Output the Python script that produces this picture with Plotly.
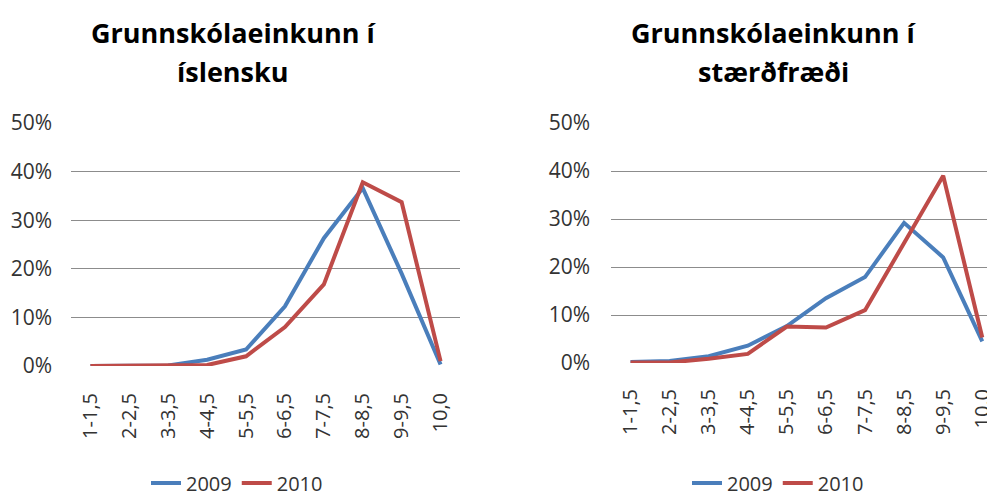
import plotly.graph_objects as go

categories = ["1-1,5", "2-2,5", "3-3,5", "4-4,5", "5-5,5", "6-6,5", "7-7,5", "8-8,5", "9-9,5", "10,0"]

isl_2009 = [0.0, 0.0, 0.001, 0.013, 0.034, 0.123, 0.263, 0.366, 0.19, 0.003]
isl_2010 = [0.0, 0.0, 0.0, 0.002, 0.02, 0.08, 0.168, 0.378, 0.337, 0.01]

stae_2009 = [0.002, 0.004, 0.014, 0.036, 0.077, 0.135, 0.179, 0.292, 0.22, 0.045]
stae_2010 = [0.001, 0.001, 0.009, 0.019, 0.076, 0.074, 0.11, 0.25, 0.39, 0.053]

titles = [["Grunnskólaeinkunn í", "íslensku"], ["Grunnskólaeinkunn í", "stærðfræði"]]
years = ["2009", "2010"]
colors = ["#4A7EBB", "#BE4B48"]

# the page body has an 8px default margin; size the figure so it ends at the window edge
OFF = 8
W, H = 995 - OFF, 497 - OFF
FONT = "Open Sans"

fig = go.Figure()

def px_x(v):
    return (v - OFF) / W

def px_y(v):
    return (H - (v - OFF)) / H

panels = [
    dict(data=[isl_2009, isl_2010], xd=[71, 460], yd=[366, 123], xr=[-0.5, 9.5], legend="legend",
         title_x=233, ystand=18, xstand=22),
    dict(data=[stae_2009, stae_2010], xd=[611, 994], yd=[363, 123], xr=[-0.5, 9.3], legend="legend2",
         title_x=773, ystand=20, xstand=21),
]

for i, p in enumerate(panels):
    xa = "x" if i == 0 else "x2"
    ya = "y" if i == 0 else "y2"
    for j, series in enumerate(p["data"]):
        fig.add_trace(go.Scatter(
            x=categories, y=series, mode="lines", name=years[j],
            line=dict(color=colors[j], width=4),
            xaxis=xa, yaxis=ya, legend=p["legend"], cliponaxis=False,
        ))
    axis_x = dict(
        domain=[px_x(p["xd"][0]), px_x(p["xd"][1])], range=p["xr"], type="category",
        tickangle=-90, showgrid=False, showline=False, zeroline=False, ticks="",
        tickfont=dict(family=FONT, size=20, color="#333333"), ticklabelstandoff=p["xstand"],
        anchor=ya, automargin=False,
    )
    axis_y = dict(
        domain=[px_y(p["yd"][0]), px_y(p["yd"][1])], range=[0, 0.5], tickformat=".0%",
        tickvals=[0, 0.1, 0.2, 0.3, 0.4, 0.5], showgrid=True, gridcolor="#8C8C8C", gridwidth=1,
        zeroline=False, showline=False, ticks="",
        tickfont=dict(family=FONT, size=21, color="#333333"), ticklabelstandoff=p["ystand"],
        anchor=xa, automargin=False,
    )
    if i == 0:
        fig.update_layout(xaxis=axis_x, yaxis=axis_y)
    else:
        fig.update_layout(xaxis2=axis_x, yaxis2=axis_y)
    for k, line in enumerate(titles[i]):
        fig.add_annotation(
            text="<b>" + line + "</b>", x=px_x(p["title_x"]), y=px_y(32 + 40 * k),
            xref="paper", yref="paper", xanchor="center", yanchor="middle",
            showarrow=False, align="center",
            font=dict(family=FONT, size=27, color="#000000"),
        )

legend_common = dict(orientation="h", xanchor="center", yanchor="middle", y=px_y(483),
                     font=dict(family=FONT, size=20, color="#333333"), bgcolor="rgba(0,0,0,0)",
                     itemwidth=30, tracegroupgap=0)
fig.update_layout(
    width=W, height=H, margin=dict(l=0, r=0, t=0, b=0, pad=0, autoexpand=False),
    paper_bgcolor="white", plot_bgcolor="white",
    legend=dict(x=px_x(237), **legend_common),
    legend2=dict(x=px_x(778), **legend_common),
    showlegend=True,
)

fig.write_html("out.html")
